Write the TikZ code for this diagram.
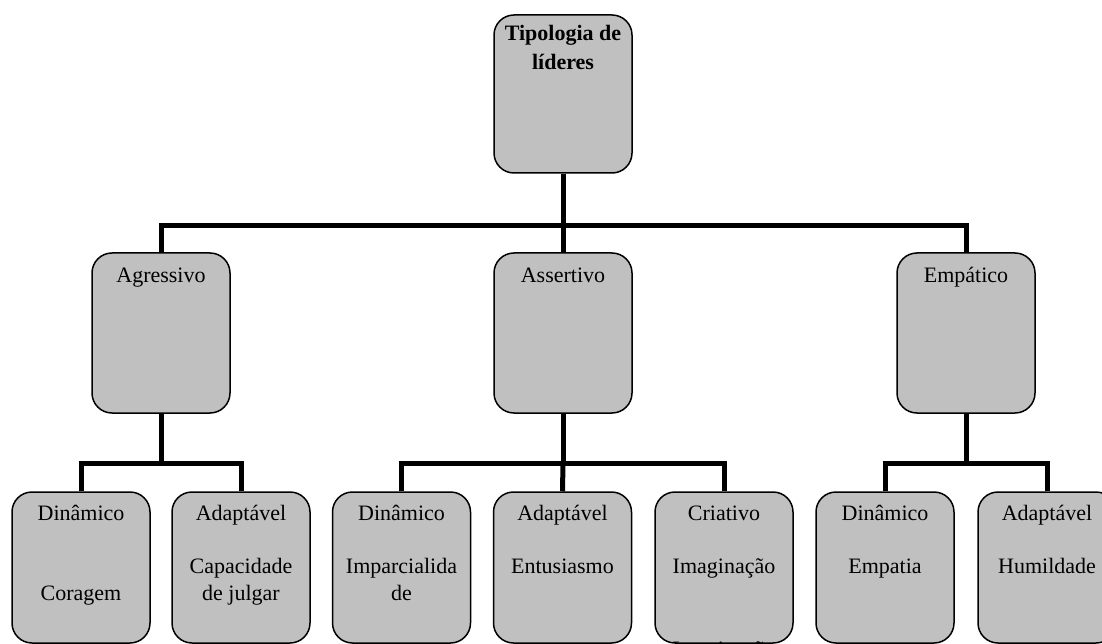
\documentclass[tikz,border=0pt]{standalone}
\usepackage{fontspec}
\setmainfont{Liberation Serif}
\definecolor{boxgray}{HTML}{C0C0C0}
\begin{document}
\begin{tikzpicture}[x=1pt,y=-1pt,
  box/.style={draw=black, line width=1.5pt, fill=boxgray, rounded corners=20pt, minimum width=138pt, inner sep=0pt},
  topbox/.style={box, minimum height=158pt},
  midbox/.style={box, minimum height=160pt},
  leafbox/.style={box, minimum height=151pt},
  conn/.style={line width=5pt, line join=miter},
  txt/.style={anchor=base, inner sep=0pt, font=\fontsize{22}{26}\selectfont},
  btxt/.style={txt, font=\fontsize{22}{26}\selectfont\bfseries}]
\clip (0,0) rectangle (1102,644);
\useasboundingbox (0,0) rectangle (1102,644);
% coordinates for junctions
\coordinate (j0) at (563,226);
\coordinate (j1) at (161,463);
\coordinate (j2) at (563,463);
\coordinate (j3) at (966,463);
% boxes
\node[topbox] (top) at (563,94) {};
\node[midbox] (agr) at (161,333) {};
\node[midbox] (ass) at (563,333) {};
\node[midbox] (emp) at (966,333) {};
\node[leafbox] (a1) at (81,567.5) {};
\node[leafbox] (a2) at (241,567.5) {};
\node[leafbox] (s1) at (401.5,567.5) {};
\node[leafbox] (s2) at (562.5,567.5) {};
\node[leafbox] (s3) at (724,567.5) {};
\node[leafbox] (e1) at (885,567.5) {};
\node[leafbox] (e2) at (1047,567.5) {};
% connectors
\draw[conn] (top.south) -- (j0);
\draw[conn] (agr.north) |- (j0) -| (emp.north);
\draw[conn] (j0) -- (ass.north);
\draw[conn] (agr.south) -- (j1);
\draw[conn] (a1.north) |- (j1) -| (a2.north);
\draw[conn] (ass.south) -- (j2);
\draw[conn] (s1.north) |- (j2) -| (s3.north);
\draw[conn] (j2) -- (s2.north);
\draw[conn] (emp.south) -- (j3);
\draw[conn] (e1.north) |- (j3) -| (e2.north);
% texts
\node[btxt] (t0a) at (563,41) {Tipologia de};
\node[btxt] (t0b) at (563,70) {líderes};
\node[txt] (tagr) at (161,282) {Agressivo};
\node[txt] (tass) at (563,282) {Assertivo};
\node[txt] (temp) at (966,282) {Empático};
\node[txt] (ta1a) at (81,520) {Dinâmico};
\node[txt] (ta1b) at (81,600) {Coragem};
\node[txt] (ta2a) at (241,520) {Adaptável};
\node[txt] (ta2b) at (241,573) {Capacidade};
\node[txt] (ta2c) at (241,600) {de julgar};
\node[txt] (ts1a) at (401.5,520) {Dinâmico};
\node[txt] (ts1b) at (401.5,573) {Imparcialida};
\node[txt] (ts1c) at (401.5,600) {de};
\node[txt] (ts2a) at (562.5,520) {Adaptável};
\node[txt] (ts2b) at (562.5,573) {Entusiasmo};
\node[txt] (ts3a) at (724,520) {Criativo};
\node[txt] (ts3b) at (724,573) {Imaginação};
\node[txt] (ts3c) at (724,656) {Imaginação};
\node[txt] (te1a) at (885,520) {Dinâmico};
\node[txt] (te1b) at (885,573) {Empatia};
\node[txt] (te2a) at (1047,520) {Adaptável};
\node[txt] (te2b) at (1047,573) {Humildade};
\end{tikzpicture}
\end{document}
